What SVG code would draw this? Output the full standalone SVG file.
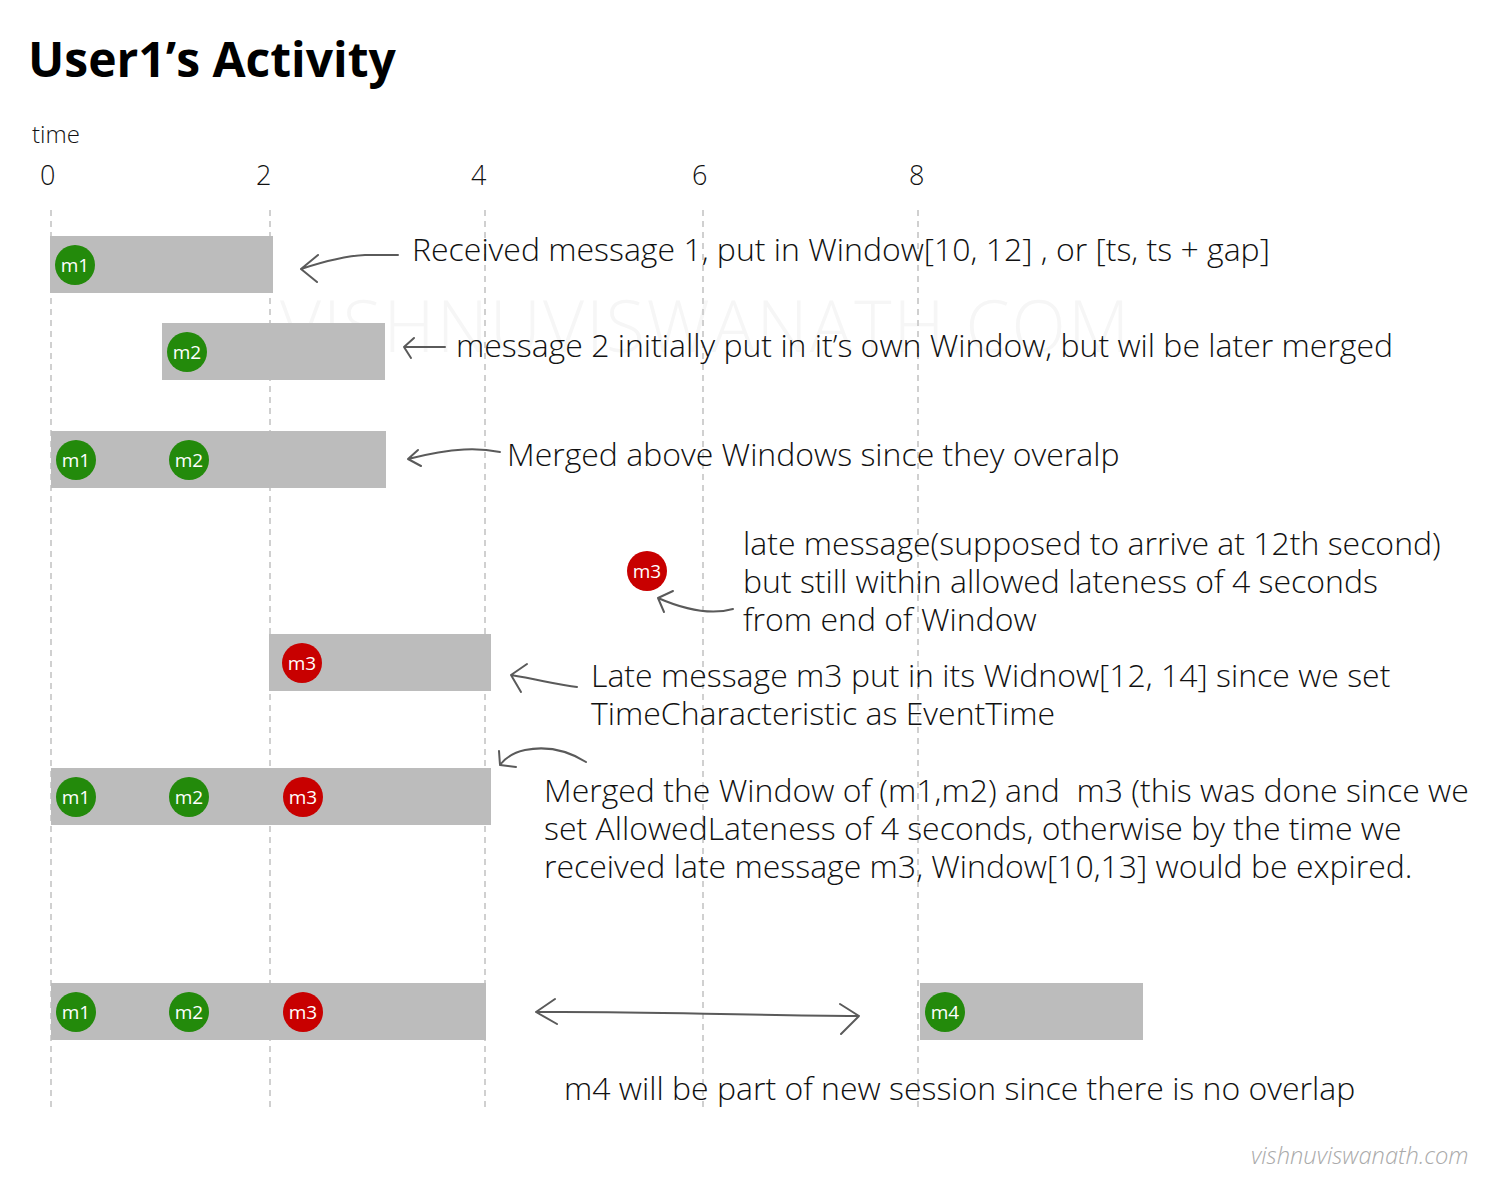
<svg xmlns="http://www.w3.org/2000/svg" width="1500" height="1200" viewBox="0 0 1500 1200">
<style>
.t{font-family:"Open Sans","Liberation Sans",sans-serif;font-weight:300;font-size:32px;fill:#111}
.ax{font-family:"Open Sans","Liberation Sans",sans-serif;font-weight:300;fill:#111}
.grid{stroke:#d0d0d0;stroke-width:2;stroke-dasharray:6 5}
.bar{fill:#bcbcbc}
.g{fill:#238a0b}
.r{fill:#c80000}
.lbl{font-family:"Open Sans","Liberation Sans",sans-serif;font-size:19px;fill:#fff;text-anchor:middle}
.arr{fill:none;stroke:#5a5a5a;stroke-width:2;stroke-linecap:round;stroke-linejoin:round}
</style>
<rect width="1500" height="1200" fill="#fff"/>
<text x="280" y="352" font-family="Open Sans, Liberation Sans, sans-serif" font-weight="300" font-size="71" fill="#f6f6f6" letter-spacing="2">VISHNUVISWANATH.COM</text>
<g id="grid">
<line class="grid" x1="51" y1="210" x2="51" y2="1110"/>
<line class="grid" x1="270" y1="210" x2="270" y2="1110"/>
<line class="grid" x1="485" y1="210" x2="485" y2="1110"/>
<line class="grid" x1="703" y1="210" x2="703" y2="1110"/>
<line class="grid" x1="918" y1="210" x2="918" y2="1110"/>
</g>
<g id="title"><text x="28" y="77" font-family="Open Sans, Liberation Sans, sans-serif" font-weight="700" font-size="48" fill="#000">User1’s Activity</text></g>
<g id="axis">
<text class="ax" x="32" y="143" font-size="24">time</text>
<text class="ax" x="40" y="185" font-size="27">0</text>
<text class="ax" x="256" y="185" font-size="27">2</text>
<text class="ax" x="471" y="185" font-size="27">4</text>
<text class="ax" x="692" y="185" font-size="27">6</text>
<text class="ax" x="909" y="185" font-size="27">8</text>
</g>
<g id="row1">
<rect class="bar" x="50" y="236" width="223" height="57"/>
<circle class="g" cx="75" cy="265" r="20"/><text class="lbl" x="75" y="272">m1</text>
</g>
<g id="row2">
<rect class="bar" x="162" y="323" width="223" height="57"/>
<circle class="g" cx="187" cy="352" r="20"/><text class="lbl" x="187" y="359">m2</text>
</g>
<g id="row3">
<rect class="bar" x="51" y="431" width="335" height="57"/>
<circle class="g" cx="76" cy="460" r="20"/><text class="lbl" x="76" y="467">m1</text>
<circle class="g" cx="189" cy="460" r="20"/><text class="lbl" x="189" y="467">m2</text>
</g>
<g id="late-m3">
<circle class="r" cx="647" cy="571" r="20"/><text class="lbl" x="647" y="578">m3</text>
</g>
<g id="row4">
<rect class="bar" x="269" y="634" width="222" height="57"/>
<circle class="r" cx="302" cy="663" r="20"/><text class="lbl" x="302" y="670">m3</text>
</g>
<g id="row5">
<rect class="bar" x="51" y="768" width="440" height="57"/>
<circle class="g" cx="76" cy="797" r="20"/><text class="lbl" x="76" y="804">m1</text>
<circle class="g" cx="189" cy="797" r="20"/><text class="lbl" x="189" y="804">m2</text>
<circle class="r" cx="303" cy="797" r="20"/><text class="lbl" x="303" y="804">m3</text>
</g>
<g id="row6">
<rect class="bar" x="51" y="983" width="435" height="57"/>
<circle class="g" cx="76" cy="1012" r="20"/><text class="lbl" x="76" y="1019">m1</text>
<circle class="g" cx="189" cy="1012" r="20"/><text class="lbl" x="189" y="1019">m2</text>
<circle class="r" cx="303" cy="1012" r="20"/><text class="lbl" x="303" y="1019">m3</text>
</g>
<g id="m4">
<rect class="bar" x="920" y="983" width="223" height="57"/>
<circle class="g" cx="945" cy="1012" r="20"/><text class="lbl" x="945" y="1019">m4</text>
</g>
<g id="connectors">
<path class="arr" d="M398,255 L365,255 C345,256 322,262 301,269 M301,269 L318,255 M301,269 L317,282"/>
<path class="arr" d="M445,347 L404,347 M404,347 L414,338 M404,347 L411,358" stroke="#777"/>
<path class="arr" d="M500,452 C480,448 455,447 408,459 M408,459 L418,450 M408,459 L421,466"/>
<path class="arr" d="M733,609 C715,614 690,612 658,598 M658,598 L673,591 M658,598 L664,612"/>
<path class="arr" d="M577,687 C560,685 540,680 511,675 M511,675 L527,664 M511,675 L521,692"/>
<path class="arr" d="M586,762 C570,752 550,745 525,750 C512,753 505,758 500,765 M500,765 L499,751 M500,765 L516,767"/>
<path class="arr" d="M536,1012 C640,1011 720,1015 859,1016 M536,1012 L555,999 M536,1012 L557,1024 M859,1016 L840,1004 M859,1016 L841,1034"/>
</g>
<g id="texts">
<text class="t" x="412" y="261">Received message 1, put in Window[10, 12] , or [ts, ts + gap]</text>
<text class="t" x="456" y="357">message 2 initially put in it’s own Window, but wil be later merged</text>
<text class="t" x="507" y="466">Merged above Windows since they overalp</text>
<text class="t" x="743" y="555">late message(supposed to arrive at 12th second)</text>
<text class="t" x="743" y="593">but still within allowed lateness of 4 seconds</text>
<text class="t" x="743" y="631">from end of Window</text>
<text class="t" x="591" y="687">Late message m3 put in its Widnow[12, 14] since we set</text>
<text class="t" x="591" y="725">TimeCharacteristic as EventTime</text>
<text class="t" x="544" y="802" xml:space="preserve">Merged the Window of (m1,m2) and  m3 (this was done since we</text>
<text class="t" x="544" y="840">set AllowedLateness of 4 seconds, otherwise by the time we</text>
<text class="t" x="544" y="878">received late message m3, Window[10,13] would be expired.</text>
<text class="t" x="564" y="1100">m4 will be part of new session since there is no overlap</text>
<text x="1251" y="1164" font-family="Open Sans, Liberation Sans, sans-serif" font-weight="300" font-style="italic" font-size="23.7" fill="#aaa">vishnuviswanath.com</text>
</g>
</svg>
